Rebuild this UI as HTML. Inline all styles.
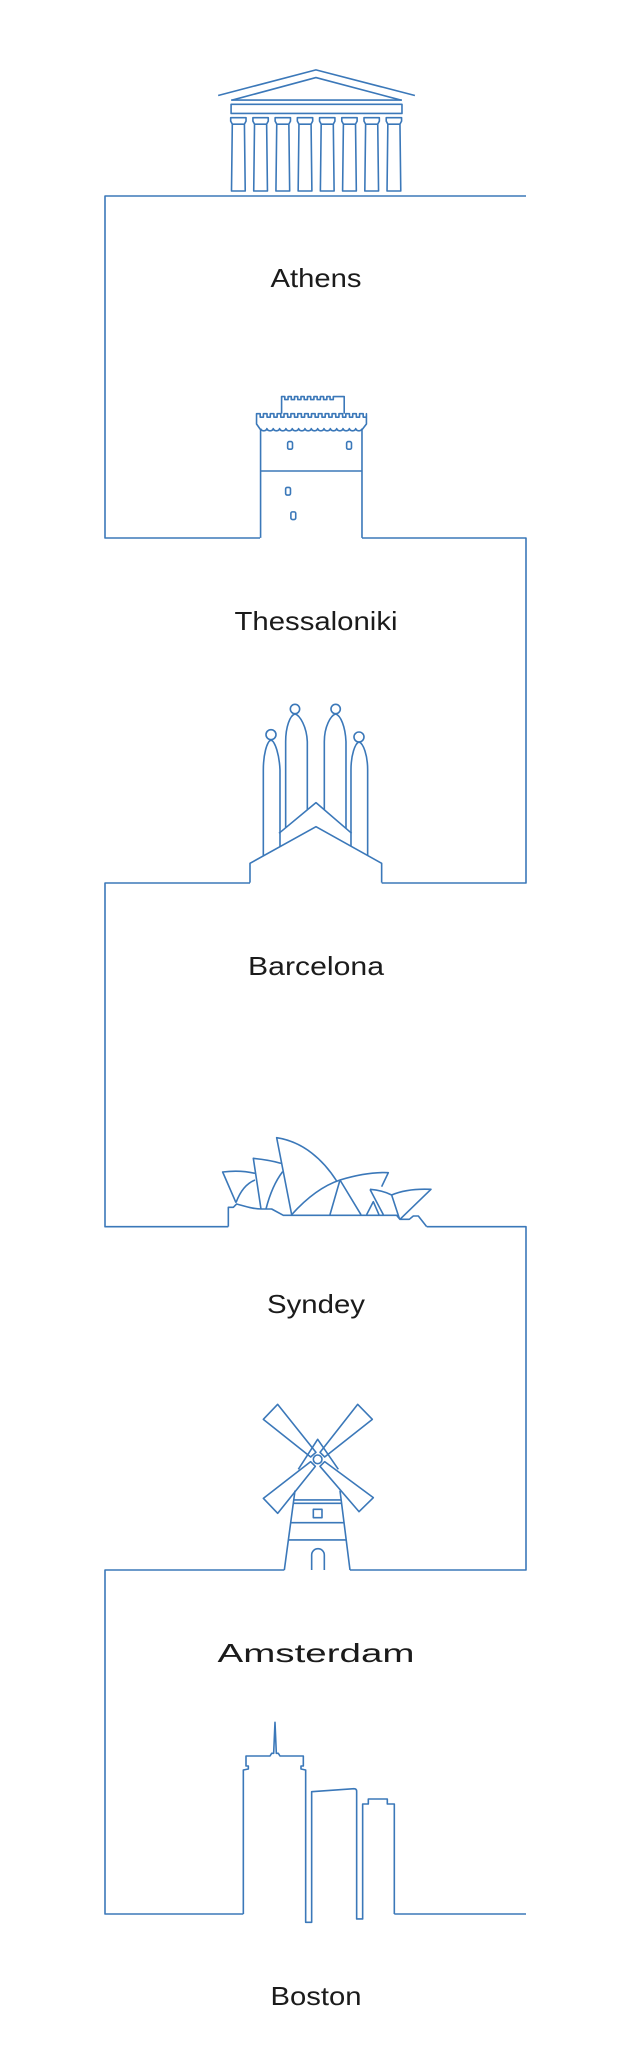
<!DOCTYPE html>
<html><head><meta charset="utf-8"><style>
html,body{margin:0;padding:0;background:#fff;}
svg{display:block;}
path,rect,circle,line,polyline{vector-effect:non-scaling-stroke;}
</style></head><body>
<svg width="633" height="2048" viewBox="0 0 633 2048" xmlns="http://www.w3.org/2000/svg" fill="none" stroke="#3b78b9" stroke-width="1.6" stroke-linejoin="round">
<path d="M526,196 H105 V538 H260"/>
<path d="M362,538 H526 V883 H381.7"/>
<path d="M250,883 H105 V1226.7 H228.3"/>
<path d="M426.7,1226.7 H526 V1570 H350"/>
<path d="M284.3,1570 H105 V1914 H243.3"/>
<path d="M394.3,1914 H526"/>

<g transform="scale(0.404,0.382)">
<path d="M540,250 L782,183 L1027,250"/>
<path d="M575,262 L782,203 L992,262"/>
<line x1="572" y1="262" x2="995" y2="262"/>
<rect x="572" y="273" width="423" height="24"/>
<g>
<path d="M571,308 H609 V317 L605,325 H575 L571,317 Z M575,325 L573,500 H607 L605,325"/>
<path d="M626,308 H664 V317 L660,325 H630 L626,317 Z M630,325 L628,500 H662 L660,325"/>
<path d="M681,308 H719 V317 L715,325 H685 L681,317 Z M685,325 L683,500 H717 L715,325"/>
<path d="M736,308 H774 V317 L770,325 H740 L736,317 Z M740,325 L738,500 H772 L770,325"/>
<path d="M791,308 H829 V317 L825,325 H795 L791,317 Z M795,325 L793,500 H827 L825,325"/>
<path d="M846,308 H884 V317 L880,325 H850 L846,317 Z M850,325 L848,500 H882 L880,325"/>
<path d="M901,308 H939 V317 L935,325 H905 L901,317 Z M905,325 L903,500 H937 L935,325"/>
<path d="M956,308 H994 V317 L990,325 H960 L956,317 Z M960,325 L958,500 H992 L990,325"/>
</g>
</g>

<g transform="scale(0.404,0.382)">
<path d="M645,1408 V1125 L635,1110 V1083 h9 v9 h8 v-9 h9 v9 h8 v-9 h9 v9 h8 v-9 h9 v9 h8 v-9 h9 v9 h8 v-9 h9 v9 h8 v-9 h9 v9 h8 v-9 h9 v9 h8 v-9 h9 v9 h8 v-9 h9 v9 h8 v-9 h9 v9 h8 v-9 h9 v9 h8 v-9 h9 v9 h8 v-9 h9 v9 h8 v-9 h9 v9 h8 v-9 h9 v9 h8 v-9 V1110 L896,1125 V1408"/>
<path d="M645,1122 a8,7 0 0 0 15.7,0 a8,7 0 0 0 15.7,0 a8,7 0 0 0 15.7,0 a8,7 0 0 0 15.7,0 a8,7 0 0 0 15.7,0 a8,7 0 0 0 15.7,0 a8,7 0 0 0 15.7,0 a8,7 0 0 0 15.7,0 a8,7 0 0 0 15.7,0 a8,7 0 0 0 15.7,0 a8,7 0 0 0 15.7,0 a8,7 0 0 0 15.7,0 a8,7 0 0 0 15.7,0 a8,7 0 0 0 15.7,0 a8,7 0 0 0 15.7,0 a8,7 0 0 0 15.7,0"/>
<path d="M697,1083 V1038 h8 v8 h8 v-8 h8 v8 h8 v-8 h8 v8 h8 v-8 h8 v8 h8 v-8 h8 v8 h8 v-8 h8 v8 h8 v-8 h8 v8 h8 v-8 h8 v8 h8 v-8 H852 V1083"/>
<line x1="645" y1="1233" x2="896" y2="1233"/>
<rect x="712" y="1156" width="12" height="20" rx="4"/>
<rect x="858" y="1156" width="12" height="20" rx="4"/>
<rect x="707" y="1276" width="12" height="20" rx="4"/>
<rect x="720" y="1340" width="12" height="20" rx="4"/>
</g>

<g transform="translate(200,680) scale(0.3333)">
<path d="M150,608 V550 L348,440 L545,550 V608"/>
<path d="M237,460 L348,368 L455,460"/>
<path d="M190,528 V270 C190,225 200,185 213,180 C226,185 238,225 240,270 V500"/>
<circle cx="213" cy="164" r="15"/>
<path d="M257,443 V185 C257,140 270,106 285,102 C300,106 320,140 322,185 V389"/>
<circle cx="285" cy="87" r="14"/>
<path d="M373,389 V185 C373,140 392,106 407,102 C422,106 436,140 438,185 V445"/>
<circle cx="407" cy="87" r="14"/>
<path d="M453,499 V270 C453,225 465,190 477,186 C490,190 503,225 503,270 V526"/>
<circle cx="477" cy="171" r="15"/>
</g>

<g transform="translate(200,1110) scale(0.3333)">
<path d="M85,350 V292 H100 L110,282 C140,290 160,297 185,297 L215,297 L250,316 H590 L600,328 H628 L640,318 H655 L680,350"/>
<path d="M108,278 L68,186 C100,182 135,183 165,190"/>
<path d="M108,278 C120,245 140,220 165,210"/>
<path d="M183,297 L160,145 C190,148 220,153 243,160"/>
<path d="M198,297 C210,250 225,215 248,185"/>
<path d="M275,314 L230,83 C310,95 370,150 410,213"/>
<path d="M275,314 C310,275 360,230 420,210 C470,195 520,186 565,188 L545,230"/>
<path d="M420,210 L390,314 M420,210 L483,314"/>
<path d="M500,314 L520,275 L537,314 M510,238 L550,314 M510,238 C535,240 555,245 575,255"/>
<path d="M575,255 L598,325 M575,255 C610,240 650,236 693,238 L600,328"/>
</g>

<g transform="translate(240,1370) scale(0.3333)">
<path d="M70,148 L113,103 L228,247 L212,261 Z"/>
<path d="M397,148 L353,103 L240,247 L254,261 Z"/>
<path d="M70,385 L113,430 L226,289 L212,275 Z"/>
<path d="M400,383 L357,425 L240,289 L254,275 Z"/>
<circle cx="233" cy="268" r="13"/>
<path d="M175,298 L233,208 L295,298"/>
<path d="M133,600 L165,362 M300,362 L330,600"/>
<path d="M162,390 H304 M161,400 H306 M153,458 H313 M146,510 H320"/>
<rect x="220" y="418" width="26" height="25"/>
<path d="M215,600 V555 A19,19 0 0 1 253,555 V600"/>
</g>

<g transform="translate(220,1690) scale(0.3333)">
<path d="M70,672 V240 L85,237 V228 L78,228 V198 L150,198 L155,190 L161,190 L165,97 L169,190 L175,190 L180,198 L250,198 V228 L243,228 V237 L257,240 V697 H275 V305 L402,296 Q410,296 410,304 V687 H428 V342 H445 V327 H502 V342 H523 V672"/>
</g>

<g fill="#1b1b1b" stroke="none" font-family="'Liberation Sans', sans-serif" font-size="26" text-anchor="middle">
<text x="316" y="287" textLength="91" lengthAdjust="spacingAndGlyphs">Athens</text>
<text x="316" y="630" textLength="163" lengthAdjust="spacingAndGlyphs">Thessaloniki</text>
<text x="316" y="975" textLength="136" lengthAdjust="spacingAndGlyphs">Barcelona</text>
<text x="316" y="1313" textLength="98" lengthAdjust="spacingAndGlyphs">Syndey</text>
<text x="316" y="1662" textLength="197" lengthAdjust="spacingAndGlyphs">Amsterdam</text>
<text x="316" y="2005" textLength="91" lengthAdjust="spacingAndGlyphs">Boston</text>
</g>
</svg>
</body></html>
